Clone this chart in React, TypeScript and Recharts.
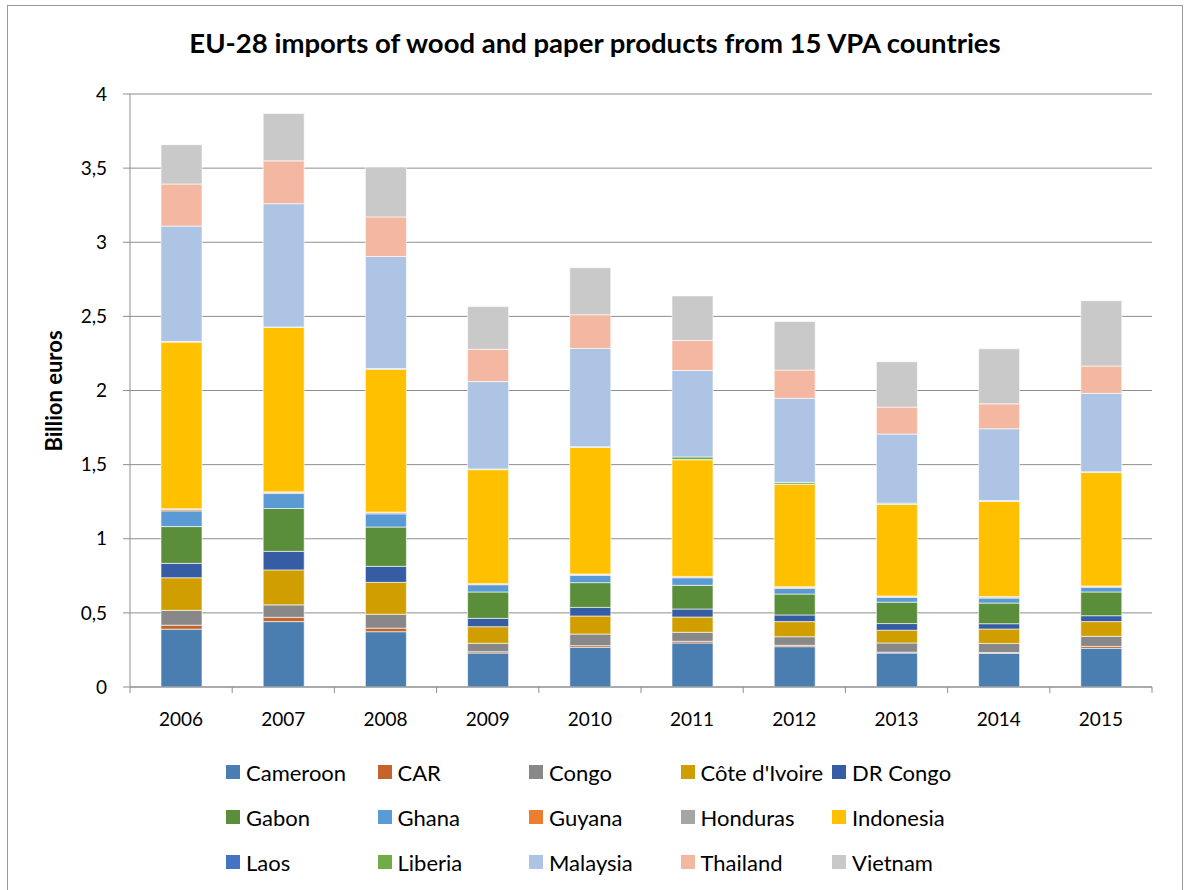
import { Bar, BarChart, CartesianGrid, XAxis, YAxis } from 'recharts'

const years = ['2006', '2007', '2008', '2009', '2010', '2011', '2012', '2013', '2014', '2015']

const countries = [
  'Cameroon', 'CAR', 'Congo', "Côte d'Ivoire", 'DR Congo',
  'Gabon', 'Ghana', 'Guyana', 'Honduras', 'Indonesia',
  'Laos', 'Liberia', 'Malaysia', 'Thailand', 'Vietnam',
]

const colors = [
  '#4A7EB0', '#C5632A', '#888888', '#D19E00', '#365DA3',
  '#5B8E3A', '#5B9BD5', '#ED7D31', '#A5A5A5', '#FFC000',
  '#4472C4', '#70AD47', '#ADC4E4', '#F4B8A2', '#C9C9C9',
]

// billion euros, bottom to top of each stack
const cameroon = [0.39, 0.441, 0.373, 0.229, 0.268, 0.297, 0.272, 0.229, 0.227, 0.261]
const car = [0.027, 0.029, 0.024, 0.009, 0.011, 0.011, 0.009, 0.006, 0.006, 0.013]
const congo = [0.1, 0.084, 0.094, 0.057, 0.078, 0.061, 0.058, 0.062, 0.061, 0.068]
const coteDIvoire = [0.22, 0.236, 0.215, 0.112, 0.122, 0.103, 0.102, 0.086, 0.097, 0.099]
const drCongo = [0.097, 0.125, 0.108, 0.056, 0.058, 0.054, 0.045, 0.045, 0.036, 0.04]
const gabon = [0.248, 0.289, 0.265, 0.178, 0.167, 0.16, 0.141, 0.144, 0.139, 0.16]
const ghana = [0.106, 0.101, 0.089, 0.049, 0.049, 0.051, 0.038, 0.033, 0.034, 0.031]
const guyana = [0.01, 0.008, 0.008, 0.005, 0.006, 0.005, 0.006, 0.005, 0.006, 0.006]
const honduras = [0.004, 0.004, 0.004, 0.002, 0.004, 0.004, 0.006, 0.004, 0.004, 0.004]
const indonesia = [1.125, 1.108, 0.964, 0.769, 0.855, 0.787, 0.69, 0.619, 0.643, 0.765]
const laos = [0.002, 0.002, 0.002, 0.001, 0.001, 0.001, 0.001, 0.001, 0.001, 0.001]
const liberia = [0.002, 0.002, 0.002, 0.004, 0.002, 0.018, 0.012, 0.006, 0.004, 0.004]
const malaysia = [0.778, 0.831, 0.756, 0.589, 0.663, 0.583, 0.567, 0.466, 0.484, 0.529]
const thailand = [0.284, 0.289, 0.267, 0.218, 0.227, 0.202, 0.191, 0.182, 0.168, 0.184]
const vietnam = [0.265, 0.32, 0.337, 0.288, 0.317, 0.301, 0.328, 0.306, 0.371, 0.441]

const yTicks = [0, 0.5, 1, 1.5, 2, 2.5, 3, 3.5, 4]

const series = [
  cameroon, car, congo, coteDIvoire, drCongo,
  gabon, ghana, guyana, honduras, indonesia,
  laos, liberia, malaysia, thailand, vietnam,
]

const chartData = years.map((year, i) => {
  const row: Record<string, string | number> = { year }
  countries.forEach((c, j) => {
    row[c] = series[j][i]
  })
  return row
})

const FONT = 'Lato, "Open Sans", sans-serif'
const GRID = '#8E8E8E'
const TICK_SIZE = 6
const TICK_MARGIN = 20

function YearTick(props: any) {
  const { x, y, payload, index } = props
  const half = payload.offset || 51
  const axisY = y - TICK_SIZE - TICK_MARGIN
  return (
    <g>
      <line x1={x - half} x2={x - half} y1={axisY} y2={axisY + TICK_SIZE} stroke={GRID} />
      {index === years.length - 1 && (
        <line x1={x + half} x2={x + half} y1={axisY} y2={axisY + TICK_SIZE} stroke={GRID} />
      )}
      <text x={x} y={y} dy='0.71em' textAnchor='middle' fill='#000' fontSize={19} fontFamily={FONT}>
        {payload.value}
      </text>
    </g>
  )
}

export default function App() {
  return (
    <div style={{ position: 'absolute', left: 0, top: 0, width: 1187, height: 890, overflow: 'hidden', background: '#fff' }}>
      <div style={{ position: 'absolute', left: 7, top: 5, width: 1174, height: 900, border: '1px solid #9A9A9A' }} />
      <div
        style={{
          position: 'absolute', left: 0, width: 1190, top: 26, textAlign: 'center',
          fontFamily: FONT, fontWeight: 700, fontSize: 27.5, color: '#000', whiteSpace: 'nowrap',
        }}
      >
        EU-28 imports of wood and paper products from 15 VPA countries
      </div>
      <div style={{ position: 'absolute', left: 0, top: 0 }}>
        <BarChart
          width={1187}
          height={890}
          data={chartData}
          margin={{ top: 94, right: 35, left: 70, bottom: 163 }}
        >
          <CartesianGrid vertical={false} stroke={GRID} />
          <XAxis
            dataKey='year'
            height={40}
            stroke={GRID}
            tickLine={false}
            tickSize={TICK_SIZE}
            tickMargin={TICK_MARGIN}
            tick={<YearTick />}
            interval={0}
          />
          <YAxis
            width={60}
            domain={[0, 4]}
            ticks={yTicks}
            interval={0}
            stroke={GRID}
            tickSize={7}
            tickMargin={16}
            tick={{ fill: '#000', fontSize: 19, fontFamily: FONT }}
            tickFormatter={(v) => String(v).replace('.', ',')}
            label={() => (
              <text
                x={56}
                y={391}
                transform='rotate(-90, 56, 391)'
                textAnchor='middle'
                dominantBaseline='middle'
                fontFamily={FONT}
                fontWeight={700}
                fontSize={22}
                fill='#000'
              >
                Billion euros
              </text>
            )}
          />
          {countries.map((c, j) => (
            <Bar
              key={c}
              dataKey={c}
              stackId='a'
              fill={colors[j]}
              stroke='#ffffff'
              strokeWidth={0.6}
              barSize={41}
              isAnimationActive={false}
            />
          ))}
        </BarChart>
      </div>
      <div
        style={{
          position: 'absolute', left: 226, top: 757,
          display: 'grid', gridTemplateColumns: 'repeat(5, 151.5px)', gridAutoRows: '45px',
          fontFamily: FONT, fontSize: 22, color: '#000',
        }}
      >
        {countries.map((c, j) => (
          <div key={c} style={{ display: 'flex', alignItems: 'center', height: 30, whiteSpace: 'nowrap' }}>
            <span style={{ display: 'inline-block', width: 14, height: 14, background: colors[j], marginRight: 6 }} />
            {c}
          </div>
        ))}
      </div>
    </div>
  )
}
